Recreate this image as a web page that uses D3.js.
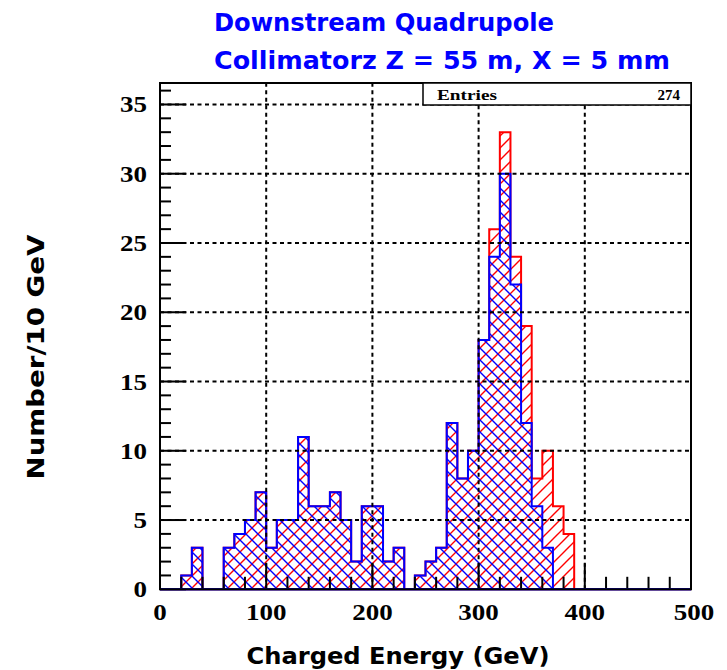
<!DOCTYPE html>
<html><head><meta charset="utf-8">
<script src="https://cdn.jsdelivr.net/npm/d3@7"></script>
<style>body{margin:0;background:#fff}svg{display:block}</style>
</head><body>
<svg id="c" width="727" height="670"></svg>
<script>
// ---- data ----
const binLow = [0,10,20,30,40,50,60,70,80,90,100,110,120,130,140,150,160,170,180,190,
  200,210,220,230,240,250,260,270,280,290,300,310,320,330,340,350,360,370,380,390,
  400,410,420,430,440,450,460,470,480,490];
const binWidth = 10;
const totalCounts = [0,0,1,3,0,0,3,4,5,7,3,5,5,11,6,6,7,5,2,6,
  6,2,3,0,1,2,3,12,8,10,18,26,33,24,19,8,10,6,4,0,
  0,0,0,0,0,0,0,0,0,0];
const subsetCounts = [0,0,1,3,0,0,3,4,5,7,3,5,5,11,6,6,7,5,2,6,
  6,2,3,0,1,2,3,12,8,10,18,24,30,22,12,6,3,0,0,0,
  0,0,0,0,0,0,0,0,0,0];
const xTicks = [0,100,200,300,400,500];
const yTicks = [0,5,10,15,20,25,30,35];
const titleLines = ["Downstream Quadrupole","Collimatorz Z = 55 m, X = 5 mm"];
const xTitle = "Charged Energy (GeV)";
const yTitle = "Number/10 GeV";
const entries = 274;

// ---- layout ----
const svg = d3.select("#c");
const L=160, R=691, T=83, B=589.3;
const x = d3.scaleLinear().domain([0,500]).range([L,R]);
const y = d3.scaleLinear().domain([0,36.55]).range([B,T]);

const defs = svg.append("defs");
function hatch(id,color,dir){
  const s = 12;
  const p = defs.append("pattern").attr("id",id).attr("patternUnits","userSpaceOnUse")
    .attr("width",s).attr("height",s);
  const d = dir>0 ? `M0,${s} L${s},0 M-3,3 L3,-3 M${s-3},${s+3} L${s+3},${s-3}`
                  : `M0,0 L${s},${s} M-3,${s-3} L3,${s+3} M${s-3},-3 L${s+3},3`;
  p.append("path").attr("d",d).attr("stroke",color).attr("stroke-width",1.4).attr("fill","none");
}
hatch("hr","#ff0000",1);
hatch("hb","#0000ff",-1);

function histPath(counts){
  let pts=[[x(0),y(0)]];
  binLow.forEach((lo,i)=>{pts.push([x(lo),y(counts[i])]);pts.push([x(lo+binWidth),y(counts[i])]);});
  pts.push([x(500),y(0)]);
  return d3.line()(pts)+"Z";
}
svg.append("path").attr("d",histPath(totalCounts)).attr("fill","url(#hr)")
  .attr("stroke","#ff0000").attr("stroke-width",2);
svg.append("path").attr("d",histPath(subsetCounts)).attr("fill","url(#hb)")
  .attr("stroke","#0000ff").attr("stroke-width",2);

// gridlines
const g = svg.append("g").attr("stroke","#000").attr("stroke-width",2).attr("stroke-dasharray","4,3.5");
xTicks.filter(v=>v>0&&v<500).forEach(v=>g.append("line").attr("x1",x(v)).attr("x2",x(v)).attr("y1",B).attr("y2",T));
yTicks.filter(v=>v>0).forEach(v=>g.append("line").attr("x1",L).attr("x2",R).attr("y1",y(v)).attr("y2",y(v)));

// ticks
const tk = svg.append("g").attr("stroke","#000").attr("stroke-width",2);
for(let v=0; v<=36; v++){
  const len = v%5===0 ? 26 : 11;
  tk.append("line").attr("x1",L).attr("x2",L+len).attr("y1",y(v)).attr("y2",y(v));
}
for(let v=0; v<=500; v+=20){
  const len = v%100===0 ? 26 : 12.5;
  tk.append("line").attr("x1",x(v)).attr("x2",x(v)).attr("y1",B).attr("y2",B-len);
}
svg.append("line").attr("x1",L).attr("x2",R).attr("y1",B).attr("y2",B).attr("stroke","#0000ff").attr("stroke-width",2);

// frame
svg.append("rect").attr("x",L).attr("y",T).attr("width",R-L).attr("height",B-T)
  .attr("fill","none").attr("stroke","#000").attr("stroke-width",2);

// tick labels
const serif = "'Liberation Serif','Times New Roman',serif";
svg.append("g").selectAll("text").data(yTicks).join("text")
  .attr("x",147).attr("y",d=>y(d)+8).attr("text-anchor","end")
  .attr("font-family",serif).attr("font-weight","bold").attr("font-size",23)
  .attr("textLength",d=>String(d).length*13.5).attr("lengthAdjust","spacingAndGlyphs")
  .text(d=>d);
svg.append("g").selectAll("text").data(xTicks).join("text")
  .attr("x",d=>x(d)+ (d===500?3:0)).attr("y",620).attr("text-anchor","middle")
  .attr("font-family",serif).attr("font-weight","bold").attr("font-size",23)
  .attr("textLength",d=>String(d).length*13.5).attr("lengthAdjust","spacingAndGlyphs")
  .text(d=>d);

// stats box
const bx = 423, bw = R-423, bh = 22;
svg.append("rect").attr("x",bx).attr("y",T).attr("width",bw).attr("height",bh)
  .attr("fill","#fff").attr("stroke","#000").attr("stroke-width",1.5);
svg.append("text").attr("x",437).attr("y",100).attr("font-family",serif).attr("font-weight","bold")
  .attr("font-size",15).attr("textLength",60).attr("lengthAdjust","spacingAndGlyphs").text("Entries");
svg.append("text").attr("x",680).attr("y",100).attr("text-anchor","end").attr("font-family",serif)
  .attr("font-weight","bold").attr("font-size",15).text(entries);

// titles
const sans = "'DejaVu Sans',Verdana,sans-serif";
svg.append("text").attr("x",214).attr("y",31).attr("fill","#0000ff").attr("font-family",sans)
  .attr("font-weight","bold").attr("font-size",24).attr("textLength",340).attr("lengthAdjust","spacingAndGlyphs")
  .text(titleLines[0]);
svg.append("text").attr("x",214).attr("y",69).attr("fill","#0000ff").attr("font-family",sans)
  .attr("font-weight","bold").attr("font-size",24).attr("textLength",456).attr("lengthAdjust","spacingAndGlyphs")
  .text(titleLines[1]);
svg.append("text").attr("x",398).attr("y",664).attr("text-anchor","middle").attr("font-family",sans)
  .attr("font-weight","bold").attr("font-size",23).attr("textLength",303).attr("lengthAdjust","spacingAndGlyphs")
  .text(xTitle);
svg.append("text").attr("transform","translate(44,357) rotate(-90)").attr("text-anchor","middle")
  .attr("font-family",sans).attr("font-weight","bold").attr("font-size",23)
  .attr("textLength",245).attr("lengthAdjust","spacingAndGlyphs").text(yTitle);
</script>
</body></html>
